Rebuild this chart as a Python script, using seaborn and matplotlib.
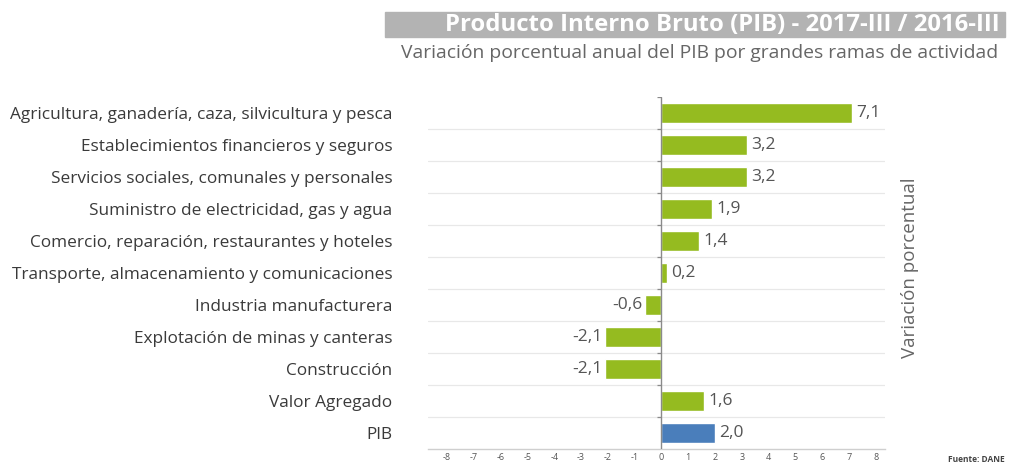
import matplotlib
matplotlib.use("Agg")
import matplotlib.pyplot as plt
import seaborn as sns
import pandas as pd
from matplotlib.patches import Rectangle

ramas = [
    "Agricultura, ganadería, caza, silvicultura y pesca",
    "Establecimientos financieros y seguros",
    "Servicios sociales, comunales y personales",
    "Suministro de electricidad, gas y agua",
    "Comercio, reparación, restaurantes y hoteles",
    "Transporte, almacenamiento y comunicaciones",
    "Industria manufacturera",
    "Explotación de minas y canteras",
    "Construcción",
    "Valor Agregado",
    "PIB",
]
variacion = [7.1, 3.2, 3.2, 1.9, 1.4, 0.2, -0.6, -2.1, -2.1, 1.6, 2.0]
tipo = ["rama"] * 10 + ["pib"]
x_ticks = list(range(-8, 9))

df = pd.DataFrame({"rama": ramas, "variacion": variacion, "tipo": tipo})

sns.set_style("white")
plt.rcParams["font.family"] = ["Open Sans", "DejaVu Sans"]

fig = plt.figure(figsize=(10.1, 4.63), dpi=100)
ax = fig.add_axes([0.424, 0.030, 0.4525, 0.760])

sns.barplot(data=df, x="variacion", y="rama", hue="tipo",
            palette={"rama": "#95bb20", "pib": "#4a7ebb"}, saturation=1,
            dodge=False, width=0.62, legend=False, ax=ax, orient="h")

ax.set_xlim(-8.7, 8.35)
ax.set_ylim(len(ramas) - 0.5, -0.5)
ax.set_xticks(x_ticks)
ax.set_xticklabels([str(t) for t in x_ticks])
ax.set_xlabel("")
ax.set_ylabel("")

# light separators between rows
bounds = [i + 0.5 for i in range(-1, len(ramas) - 1)]
for b in bounds[1:]:
    ax.axhline(b, color="#e8e8e8", lw=0.9, zorder=0)
ax.hlines(bounds, -0.18, 0, color="#8a8a8a", lw=0.9, zorder=3)
ax.axvline(0, color="#8a8a8a", lw=1.0, zorder=3)

for s in ["top", "right", "left"]:
    ax.spines[s].set_visible(False)
ax.spines["bottom"].set_color("#cfcfcf")
ax.spines["bottom"].set_linewidth(1.0)

ax.tick_params(axis="x", direction="in", length=5, width=0.9, color="#9a9a9a",
               labelsize=6.5, labelcolor="#555555", pad=3)
ax.tick_params(axis="y", length=0, pad=26, labelsize=12.4, labelcolor="#3a3a3a")

for i, v in enumerate(variacion):
    txt = f"{v:.1f}".replace(".", ",")
    if v >= 0:
        ax.text(v + 0.15, i, txt, va="center", ha="left", fontsize=12.5, color="#555555")
    else:
        ax.text(v - 0.1, i, txt, va="center", ha="right", fontsize=12.5, color="#555555")

# title banner
fig.add_artist(Rectangle((385 / 1010, 1 - 37 / 463), 620 / 1010, 25 / 463,
                         transform=fig.transFigure, color="#b3b3b3", zorder=0))
fig.text(0.990, 1 - 24.5 / 463, "Producto Interno Bruto (PIB) - 2017-III / 2016-III",
         ha="right", va="center", color="white", fontsize=17.2, fontweight="bold")
fig.text(0.988, 1 - 53 / 463, "Variación porcentual anual del PIB por grandes ramas de actividad",
         ha="right", va="center", color="#666666", fontsize=13.85)

fig.text(910 / 1010, 1 - 268 / 463, "Variación porcentual", rotation=90,
         ha="center", va="center", color="#666666", fontsize=13.5)
fig.text(0.995, 1 - 459 / 463, "Fuente: DANE", ha="right", va="center",
         color="#444444", fontsize=6, fontweight="bold")

fig.savefig("out.png", dpi=100)
